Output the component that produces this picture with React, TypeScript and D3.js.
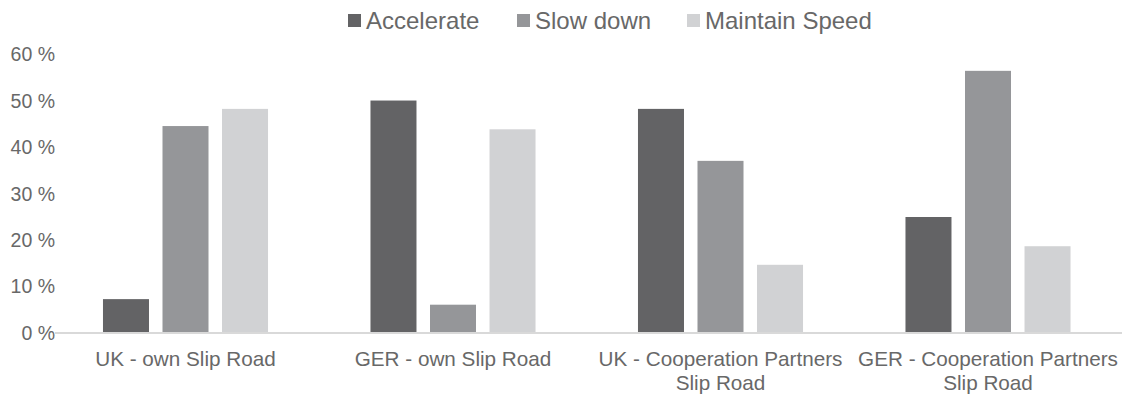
import React from "react";
import * as d3 from "d3";

// Chart data
const categories: string[][] = [
  ["UK - own Slip Road"],
  ["GER - own Slip Road"],
  ["UK - Cooperation Partners", "Slip Road"],
  ["GER - Cooperation Partners", "Slip Road"],
];
const seriesNames = ["Accelerate", "Slow down", "Maintain Speed"];
const accelerate = [7.3, 50.1, 48.3, 25.0];
const slowDown = [44.6, 6.1, 37.1, 56.5];
const maintainSpeed = [48.3, 43.9, 14.7, 18.7];
const yTicks = [0, 10, 20, 30, 40, 50, 60];

const seriesValues = [accelerate, slowDown, maintainSpeed];
const colors = ["#636365", "#959699", "#d1d2d4"];
const textColor = "#686868";
const font = "'Liberation Sans', Arial, sans-serif";

const W = 1128;
const H = 395;
const left = 51.75;
const right = 1121.75;
const y0px = 333;
const y60px = 54.6;

export default function App() {
  const catKeys = categories.map((c) => c.join(" "));
  const x0 = d3
    .scaleBand<string>()
    .domain(catKeys)
    .range([left, right])
    .paddingInner(0.383)
    .paddingOuter(0.1915);
  const x1 = d3
    .scaleBand<string>()
    .domain(seriesNames)
    .range([0, x0.bandwidth()])
    .paddingInner(0.227)
    .paddingOuter(0);
  const y = d3.scaleLinear().domain([0, 60]).range([y0px, y60px]);

  const legendX = [348, 517, 687];

  return (
    <svg
      width={W}
      height={H}
      style={{ position: "absolute", left: 0, top: 0, display: "block", background: "#fff" }}
      fontFamily={font}
    >
      {/* legend */}
      {seriesNames.map((name, i) => (
        <g key={name} transform={`translate(${legendX[i]},0)`}>
          <rect x={0} y={14} width={13} height={13} fill={colors[i]} />
          <text x={18} y={28.5} fontSize={24} fill={textColor}>
            {name}
          </text>
        </g>
      ))}

      {/* y-axis tick labels */}
      {yTicks.map((t) => (
        <text
          key={t}
          x={55}
          y={y(t)}
          dy="0.35em"
          textAnchor="end"
          fontSize={19.5}
          fill={textColor}
        >
          {`${t} %`}
        </text>
      ))}

      {/* bars */}
      {catKeys.map((cat, ci) => (
        <g key={cat} transform={`translate(${x0(cat)},0)`}>
          {seriesNames.map((s, si) => {
            const v = seriesValues[si][ci];
            return (
              <rect
                key={s}
                x={x1(s)}
                y={y(v)}
                width={x1.bandwidth()}
                height={y(0) - y(v)}
                fill={colors[si]}
              />
            );
          })}
        </g>
      ))}

      {/* baseline */}
      <line x1={55} x2={1122} y1={y(0)} y2={y(0)} stroke="#d9d9d9" strokeWidth={2} />

      {/* category labels */}
      {categories.map((lines, ci) => {
        const cx = (x0(catKeys[ci]) as number) + x0.bandwidth() / 2;
        return (
          <text key={ci} textAnchor="middle" fontSize={20.7} fill={textColor}>
            {lines.map((ln, li) => (
              <tspan key={li} x={cx} y={365.5 + li * 24.5}>
                {ln}
              </tspan>
            ))}
          </text>
        );
      })}
    </svg>
  );
}
